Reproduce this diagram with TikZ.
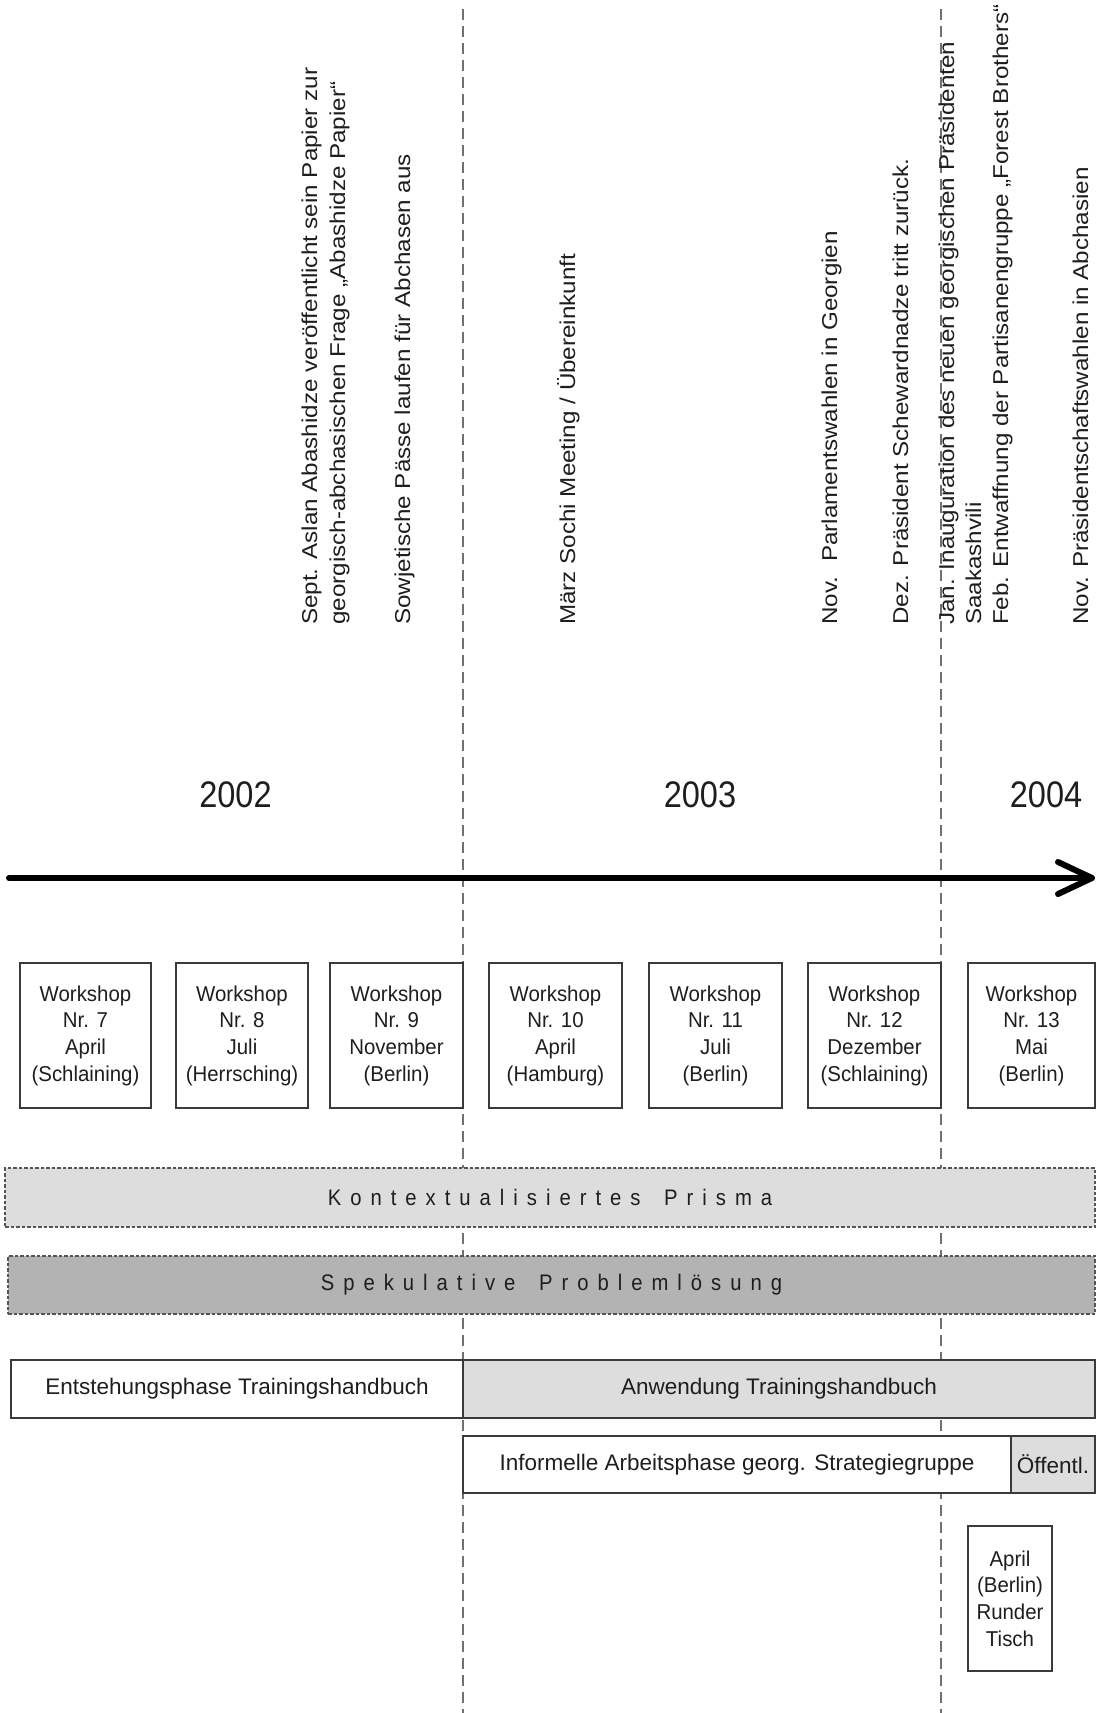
\documentclass[tikz,border=0pt]{standalone}
\usepackage{fontspec}
\setmainfont{Liberation Sans}
\newfontfamily\yearfont[FakeStretch=0.88]{Liberation Sans}
\newfontfamily\wsfont[FakeStretch=0.95]{Liberation Sans}
\newfontfamily\rotfont[FakeStretch=1.125]{Liberation Sans}
\newfontfamily\barfont[FakeStretch=0.9]{Liberation Sans}
\definecolor{txt}{HTML}{1E1E1E}
\definecolor{frame}{HTML}{3A3A3A}
\definecolor{lightfill}{HTML}{DDDDDD}
\definecolor{darkfill}{HTML}{B3B3B3}
\definecolor{dashgray}{HTML}{707070}
\definecolor{bardash}{HTML}{555555}
\def\lsk{9.0pt}
\def\spaced#1{\spacedA#1\relax\kern-\lsk}
\def\spacedA#1{\ifx#1\relax\else\ifx#1*\ \else#1\fi\kern\lsk\expandafter\spacedA\fi}
\tikzset{
  rotlabel/.style={rotate=90, anchor=base west, inner sep=0pt, text=txt,
    font=\rotfont\fontsize{21.5}{26}\selectfont},
  yearlabel/.style={inner sep=0pt, text=txt, font=\yearfont\fontsize{37}{44}\selectfont},
  wsbox/.style={draw=frame, line width=1.5pt, fill=white, inner sep=0pt, align=center,
    text=txt, minimum height=145pt, font=\wsfont\fontsize{21.5}{26.7}\selectfont},
  phasebox/.style={draw=frame, line width=1.5pt, inner sep=0pt, align=center,
    text=txt, font=\fontsize{22.5}{27}\selectfont},
  barbox/.style={draw=bardash, line width=1.6pt, dash pattern=on 3.5pt off 2pt,
    inner sep=0pt, text=txt, font=\barfont\fontsize{22.5}{27}\selectfont},
  yearline/.style={draw=dashgray, line width=2pt, dash pattern=on 11pt off 6pt},
  axis/.style={draw=black, line width=6pt, line cap=round, line join=round}
}
\begin{document}
\begin{tikzpicture}[x=1pt,y=-1pt]
\useasboundingbox (0,0) rectangle (1096,1713);
\fill[white] (0,0) rectangle (1096,1713);

% dashed year separators
\coordinate (d1top) at (463,9);
\coordinate (d1bot) at (463,1713);
\coordinate (d2top) at (941,9);
\coordinate (d2bot) at (941,1713);
\draw[yearline] (d1top) -- (d1bot);
\draw[yearline] (d2top) -- (d2bot);

% events (rotated)
\node[rotlabel] (e1) at (317,625) {Sept. Aslan Abashidze veröffentlicht sein Papier zur};
\node[rotlabel] (e1b) at (345,625) {georgisch-abchasischen Frage „Abashidze Papier“};
\node[rotlabel] (e2) at (410,625) {Sowjetische Pässe laufen für Abchasen aus};
\node[rotlabel] (e3) at (575,625) {März Sochi Meeting / Übereinkunft};
\node[rotlabel] (e4) at (837,625) {Nov.\hspace{6pt} Parlamentswahlen in Georgien};
\node[rotlabel] (e5) at (908,625) {Dez. Präsident Schewardnadze tritt zurück.};
\node[rotlabel] (e6) at (954,625) {Jan. Inauguration des neuen georgischen Präsidenten};
\node[rotlabel] (e6b) at (981,625) {Saakashvili};
\node[rotlabel] (e7) at (1008,625) {Feb. Entwaffnung der Partisanengruppe „Forest Brothers“};
\node[rotlabel] (e8) at (1088,625) {Nov. Präsidentschaftswahlen in Abchasien};

% years
\node[yearlabel] (y2002) at (235.5,795) {2002};
\node[yearlabel] (y2003) at (700,795) {2003};
\node[yearlabel] (y2004) at (1046,795) {2004};

% time axis
\coordinate (axL) at (9,878);
\coordinate (axR) at (1092,878);
\coordinate (tipA) at (1058,862);
\coordinate (tipB) at (1058,894);
\draw[axis] (axL) -- (axR);
\draw[axis] (tipA) -- (axR) -- (tipB);

% workshops
\node[wsbox, minimum width=131pt] (w7) at (85.5,1035.5) {Workshop\\Nr. 7\\April\\(Schlaining)};
\node[wsbox, minimum width=132pt] (w8) at (242,1035.5) {Workshop\\Nr. 8\\Juli\\(Herrsching)};
\node[wsbox, minimum width=133pt] (w9) at (396.5,1035.5) {Workshop\\Nr. 9\\November\\(Berlin)};
\node[wsbox, minimum width=133pt] (w10) at (555.5,1035.5) {Workshop\\Nr. 10\\April\\(Hamburg)};
\node[wsbox, minimum width=133pt] (w11) at (715.5,1035.5) {Workshop\\Nr. 11\\Juli\\(Berlin)};
\node[wsbox, minimum width=133pt] (w12) at (874.5,1035.5) {Workshop\\Nr. 12\\Dezember\\(Schlaining)};
\node[wsbox, minimum width=127pt] (w13) at (1031.5,1035.5) {Workshop\\Nr. 13\\Mai\\(Berlin)};

% bars
\node[barbox, fill=lightfill, minimum width=1090pt, minimum height=59pt] (prisma) at (550,1197.5)
  {\spaced{Kontextualisiertes*Prisma}};
\node[barbox, fill=darkfill, minimum width=1087pt, minimum height=58pt] (spek) at (551.5,1285)
  {\spaced{Spekulative*Problemlösung}};

% phases
\node[phasebox, fill=white, minimum width=452pt, minimum height=58pt] (entst) at (237,1389)
  {Entstehungsphase Trainingshandbuch};
\node[phasebox, fill=lightfill, minimum width=632pt, minimum height=58pt] (anw) at (779,1389)
  {Anwendung Trainingshandbuch};
\node[phasebox, fill=white, minimum width=548pt, minimum height=57pt] (inf) at (737,1464.5)
  {Informelle Arbeitsphase georg. Strategiegruppe};
\node[phasebox, fill=lightfill, minimum width=84pt, minimum height=57pt] (oeff) at (1053,1464.5)
  {Öffentl.};
\node[wsbox, minimum width=84pt] (rt) at (1010,1598.5) {April\\(Berlin)\\Runder\\Tisch};
\end{tikzpicture}
\end{document}
